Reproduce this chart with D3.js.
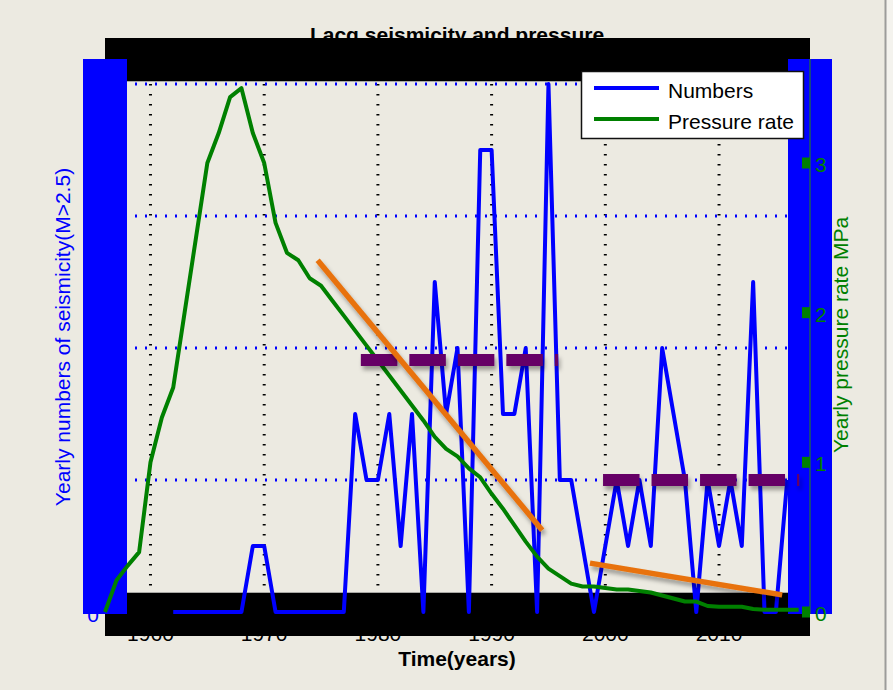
<!DOCTYPE html>
<html>
<head>
<meta charset="utf-8">
<script src="https://cdn.jsdelivr.net/npm/d3@7"></script>
<style>
  body { margin: 0; background: #ECEAE1; }
  svg { display: block; font-family: "Liberation Sans", Arial, Helvetica, sans-serif; }
</style>
</head>
<body>
<svg id="chart" width="893" height="690"></svg>
<script>
// ---- data -------------------------------------------------------------
const quakeYears = d3.range(1962, 2017);
const quakeCounts = [
  0, 0, 0, 0, 0, 0, 0,          // 1962-1968
  1, 1,                         // 1969-1970
  0, 0, 0, 0, 0, 0, 0,          // 1971-1977
  3, 2, 2, 3, 1, 3, 0, 5, 3, 4, // 1978-1987
  0, 7, 7, 3, 3, 4, 0, 8, 2, 2, // 1988-1997
  1, 0, 1, 2, 1, 2, 1, 4, 3, 2, // 1998-2007
  0, 2, 1, 2, 1, 5, 0, 0, 2     // 2008-2016
];

const pressureYears = d3.range(1956, 2018);
const pressureRate = [
  0, 0.21, 0.31, 0.4,                               // 1956-1959
  1.0, 1.3, 1.5, 2.0, 2.5, 3.0, 3.2, 3.44, 3.5, 3.2, // 1960-1969
  3.0, 2.6, 2.4, 2.35, 2.23, 2.18, 2.08, 1.98, 1.88, 1.78, // 1970-1979
  1.68, 1.58, 1.48, 1.38, 1.28, 1.17, 1.09, 1.04, 0.96, 0.90, // 1980-1989
  0.79, 0.69, 0.58, 0.47, 0.37, 0.29, 0.24, 0.19, 0.17, 0.17, // 1990-1999
  0.16, 0.15, 0.15, 0.14, 0.13, 0.11, 0.09, 0.07, 0.07, 0.04, // 2000-2009
  0.035, 0.035, 0.035, 0.02, 0.015, 0.015, 0.015, 0.015       // 2010-2017
];

// trend lines of seismicity (start/end year, start/end count)
const trendYears = [[1974.7, 1994.45], [1998.65, 2015.55]];
const trendCounts = [[5.33, 1.24], [0.74, 0.26]];

// mean seismicity over the two periods
const meanSpans = [[1978.5, 1995.85], [1999.8, 2017.05]];
const meanCounts = [3.82, 2.0];

const xTicks = [1960, 1970, 1980, 1990, 2000, 2010];
const leftTicks = [0, 2, 4, 6, 8];
const rightTicks = [0, 1, 2, 3];

const titleText = "Lacq seismicity and pressure";
const xLabel = "Time(years)";
const leftLabel = "Yearly numbers of seismicity(M>2.5)";
const rightLabel = "Yearly pressure rate MPa";
const legendNames = ["Numbers", "Pressure rate"];

// ---- scales -----------------------------------------------------------
const x = d3.scaleLinear().domain([1956, 2018]).range([105, 810]);
const yL = d3.scaleLinear().domain([0, 8]).range([612, 84]);
const yR = d3.scaleLinear().domain([0, 3]).range([612, 163]);

const svg = d3.select("#chart");
const FONT = 21;

// soft drop shadow used by the annotation marks (user-space region so
// perfectly horizontal lines still get filtered)
const defs = svg.append("defs");
const f = defs.append("filter").attr("id", "shadow")
  .attr("filterUnits", "userSpaceOnUse")
  .attr("x", 0).attr("y", 0).attr("width", 893).attr("height", 690);
f.append("feDropShadow").attr("dx", 2).attr("dy", 4).attr("stdDeviation", 2)
  .attr("flood-color", "#000").attr("flood-opacity", 0.35);

// window edge on the right
svg.append("rect").attr("x", 886).attr("y", 0).attr("width", 7).attr("height", 690).attr("fill", "#F4F3EE");
svg.append("line").attr("x1", 885.5).attr("x2", 885.5).attr("y1", 0).attr("y2", 690)
  .attr("stroke", "#9C9C9A").attr("stroke-width", 2);

// ---- grid -------------------------------------------------------------
const grid = svg.append("g");
grid.selectAll("line.v").data(xTicks).join("line")
  .attr("x1", d => x(d)).attr("x2", d => x(d))
  .attr("y1", yL(8)).attr("y2", yL(0))
  .attr("stroke", "#000").attr("stroke-width", 3)
  .attr("stroke-dasharray", "1.5,8.5");
grid.selectAll("line.h").data(leftTicks.filter(d => d > 0)).join("line")
  .attr("x1", x(1956)).attr("x2", x(2018))
  .attr("y1", d => yL(d)).attr("y2", d => yL(d))
  .attr("stroke", "#0000FF").attr("stroke-width", 3)
  .attr("stroke-dasharray", "2,8");

// ---- texts that sit behind the frame bars ------------------------------
svg.append("text").attr("x", 457).attr("y", 42)
  .attr("text-anchor", "middle").attr("font-size", FONT).attr("font-weight", "bold")
  .text(titleText);

svg.selectAll("text.xt").data(xTicks).join("text")
  .attr("x", d => x(d)).attr("y", 641)
  .attr("text-anchor", "middle").attr("font-size", FONT)
  .text(d => d);

svg.selectAll("text.lt").data(leftTicks).join("text")
  .attr("x", 99).attr("y", d => yL(d) + 10)
  .attr("text-anchor", "end").attr("font-size", FONT).attr("fill", "#0000FF")
  .text(d => d);

// ---- frame bars ---------------------------------------------------------
svg.append("rect").attr("x", 105).attr("y", 38).attr("width", 705).attr("height", 43).attr("fill", "#000");
svg.append("rect").attr("x", 105).attr("y", 593).attr("width", 705).attr("height", 43).attr("fill", "#000");
svg.append("line").attr("x1", 127).attr("x2", 788).attr("y1", 81.5).attr("y2", 81.5)
  .attr("stroke", "#A8A8A4").attr("stroke-width", 1);
svg.append("line").attr("x1", 127).attr("x2", 810).attr("y1", 592.5).attr("y2", 592.5)
  .attr("stroke", "#A8A8A4").attr("stroke-width", 1);

svg.append("rect").attr("x", 83).attr("y", 59).attr("width", 44).attr("height", 555).attr("fill", "#0000FF");
svg.append("rect").attr("x", 788).attr("y", 59).attr("width", 44).attr("height", 555).attr("fill", "#0000FF");

// right axis
svg.append("line").attr("x1", 810).attr("x2", 810).attr("y1", 59).attr("y2", 614)
  .attr("stroke", "#1E5E5A").attr("stroke-width", 1.5);
svg.selectAll("rect.rt").data(rightTicks).join("rect")
  .attr("x", 802).attr("y", d => yR(d) - 5.5).attr("width", 8).attr("height", 11)
  .attr("fill", "#008000");
svg.selectAll("text.rt").data(rightTicks).join("text")
  .attr("x", 815).attr("y", d => yR(d) + 9)
  .attr("font-size", FONT).attr("fill", "#008000")
  .text(d => d);

// axis titles
svg.append("text").attr("transform", "translate(70,337) rotate(-90)")
  .attr("text-anchor", "middle").attr("font-size", FONT).attr("fill", "#0000FF")
  .text(leftLabel);
svg.append("text").attr("transform", "translate(848,335) rotate(-90)")
  .attr("text-anchor", "middle").attr("font-size", FONT).attr("fill", "#008000")
  .text(rightLabel);
svg.append("text").attr("x", 457).attr("y", 666)
  .attr("text-anchor", "middle").attr("font-size", FONT).attr("font-weight", "bold")
  .text(xLabel);

// ---- data lines -------------------------------------------------------
const quakeLine = d3.line().x((d, i) => x(quakeYears[i])).y(d => yL(d));
svg.append("path").datum(quakeCounts)
  .attr("d", quakeLine).attr("fill", "none")
  .attr("stroke", "#0000FF").attr("stroke-width", 4).attr("stroke-linejoin", "round");

const pressureLine = d3.line().x((d, i) => x(pressureYears[i])).y(d => yR(d));
svg.append("path").datum(pressureRate)
  .attr("d", pressureLine).attr("fill", "none")
  .attr("stroke", "#008000").attr("stroke-width", 4).attr("stroke-linejoin", "round");

// mean levels (thick dashes)
svg.selectAll("line.mean").data(meanSpans).join("line")
  .attr("class", "mean")
  .attr("x1", d => x(d[0])).attr("x2", d => x(d[1]))
  .attr("y1", (d, i) => yL(meanCounts[i])).attr("y2", (d, i) => yL(meanCounts[i]))
  .attr("stroke", "#660066").attr("stroke-width", 12)
  .attr("stroke-dasharray", "36.5,12").attr("filter", "url(#shadow)");

// trends
svg.selectAll("line.trend").data(trendYears).join("line")
  .attr("class", "trend")
  .attr("x1", d => x(d[0])).attr("x2", d => x(d[1]))
  .attr("y1", (d, i) => yL(trendCounts[i][0])).attr("y2", (d, i) => yL(trendCounts[i][1]))
  .attr("stroke", "#E8720C").attr("stroke-width", 5.5).attr("filter", "url(#shadow)");

// ---- legend -------------------------------------------------------------
const lg = svg.append("g");
lg.append("rect").attr("x", 581.5).attr("y", 71.5).attr("width", 222).attr("height", 67)
  .attr("fill", "#fff").attr("stroke", "#111").attr("stroke-width", 1.5);
const legendColors = ["#0000FF", "#008000"];
legendNames.forEach((name, i) => {
  const cy = 88 + i * 31;
  lg.append("line").attr("x1", 594).attr("x2", 659).attr("y1", cy).attr("y2", cy)
    .attr("stroke", legendColors[i]).attr("stroke-width", 4);
  lg.append("text").attr("x", 668).attr("y", cy + 10)
    .attr("font-size", FONT).attr("fill", "#000").text(name);
});
</script>
</body>
</html>
